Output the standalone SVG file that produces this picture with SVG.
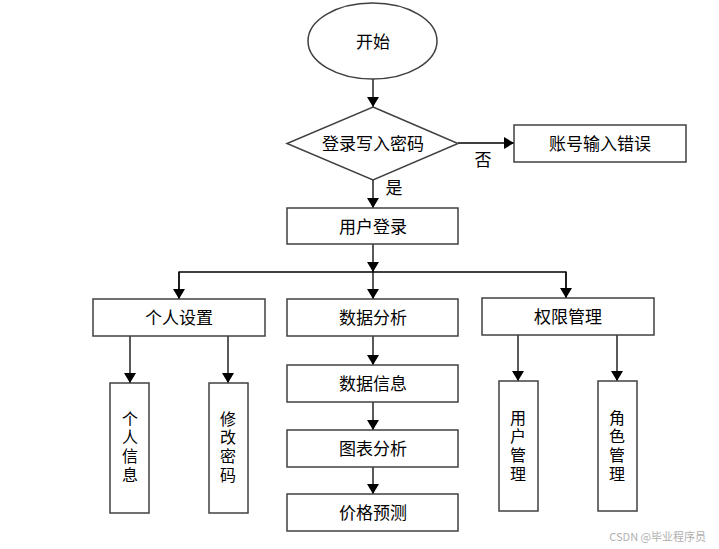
<svg xmlns="http://www.w3.org/2000/svg" width="719" height="549" viewBox="0 0 719 549">
<style>
.n{fill:#fff;stroke:#404040;stroke-width:1.5}
.t{font-family:"Noto Sans CJK SC","Liberation Sans",sans-serif;font-size:17px;fill:#000;text-anchor:middle;dominant-baseline:central}
.v{font-family:"Noto Sans CJK SC","Liberation Sans",sans-serif;font-size:16px;fill:#000;text-anchor:middle;writing-mode:vertical-rl;letter-spacing:2.7px}
.c{fill:none;stroke:#000;stroke-width:1.3}
</style>
<defs>
<marker id="a" viewBox="0 0 10 12" refX="10" refY="6" markerWidth="10" markerHeight="12" markerUnits="userSpaceOnUse" orient="auto"><path d="M0,0L10,6L0,12z" fill="#000"/></marker>
</defs>
<rect width="719" height="549" fill="#fff"/>
<g id="connectors">
<line class="c" x1="373" y1="79" x2="373" y2="107" marker-end="url(#a)"/>
<line class="c" x1="458" y1="143" x2="514" y2="143" marker-end="url(#a)"/>
<line class="c" x1="373" y1="180" x2="373" y2="208" marker-end="url(#a)"/>
<line class="c" x1="373" y1="244" x2="373" y2="272" marker-end="url(#a)"/>
<polyline class="c" points="179,298 179,272 566,272 566,298"/>
<line class="c" x1="179" y1="272" x2="179" y2="299" marker-end="url(#a)"/>
<line class="c" x1="373" y1="272" x2="373" y2="299" marker-end="url(#a)"/>
<line class="c" x1="566" y1="272" x2="566" y2="298" marker-end="url(#a)"/>
<line class="c" x1="130" y1="336" x2="130" y2="383" marker-end="url(#a)"/>
<line class="c" x1="228" y1="336" x2="228" y2="383" marker-end="url(#a)"/>
<line class="c" x1="373" y1="336" x2="373" y2="365" marker-end="url(#a)"/>
<line class="c" x1="373" y1="402" x2="373" y2="430" marker-end="url(#a)"/>
<line class="c" x1="373" y1="467" x2="373" y2="494" marker-end="url(#a)"/>
<line class="c" x1="518" y1="335" x2="518" y2="381" marker-end="url(#a)"/>
<line class="c" x1="617" y1="335" x2="617" y2="381" marker-end="url(#a)"/>
<text class="t" x="483" y="158">否</text>
<text class="t" x="394" y="186">是</text>
</g>
<g id="start"><ellipse class="n" cx="372.5" cy="41" rx="64.5" ry="38"/><text class="t" x="373" y="40">开始</text></g>
<g id="check"><polygon class="n" points="373,107 458,143.5 373,180 287,143.5"/><text class="t" x="373" y="142">登录写入密码</text></g>
<g id="error"><rect class="n" x="514" y="125" width="172" height="37"/><text class="t" x="600" y="142">账号输入错误</text></g>
<g id="login"><rect class="n" x="287" y="208" width="171" height="36"/><text class="t" x="373" y="225">用户登录</text></g>
<g id="personal"><rect class="n" x="93" y="299" width="172" height="37"/><text class="t" x="179" y="316">个人设置</text></g>
<g id="analysis"><rect class="n" x="287" y="299" width="171" height="37"/><text class="t" x="373" y="316">数据分析</text></g>
<g id="perm"><rect class="n" x="482" y="298" width="172" height="37"/><text class="t" x="568" y="315">权限管理</text></g>
<g id="info"><rect class="n" x="110" y="383" width="39" height="130"/><text class="v" x="130" y="448">个人信息</text></g>
<g id="pwd"><rect class="n" x="209" y="383" width="39" height="130"/><text class="v" x="228" y="448">修改密码</text></g>
<g id="datainfo"><rect class="n" x="287" y="365" width="171" height="37"/><text class="t" x="373" y="382">数据信息</text></g>
<g id="chart"><rect class="n" x="287" y="430" width="171" height="37"/><text class="t" x="373" y="447">图表分析</text></g>
<g id="predict"><rect class="n" x="287" y="494" width="171" height="37"/><text class="t" x="373" y="511">价格预测</text></g>
<g id="user"><rect class="n" x="499" y="381" width="39" height="130"/><text class="v" x="518" y="447">用户管理</text></g>
<g id="role"><rect class="n" x="598" y="381" width="39" height="130"/><text class="v" x="617" y="447">角色管理</text></g>
<text x="706" y="536" style="font-family:'Noto Sans CJK SC','Liberation Sans',sans-serif;font-size:11px;fill:#b0b0b0;text-anchor:end;dominant-baseline:central">CSDN @毕业程序员</text>
</svg>
